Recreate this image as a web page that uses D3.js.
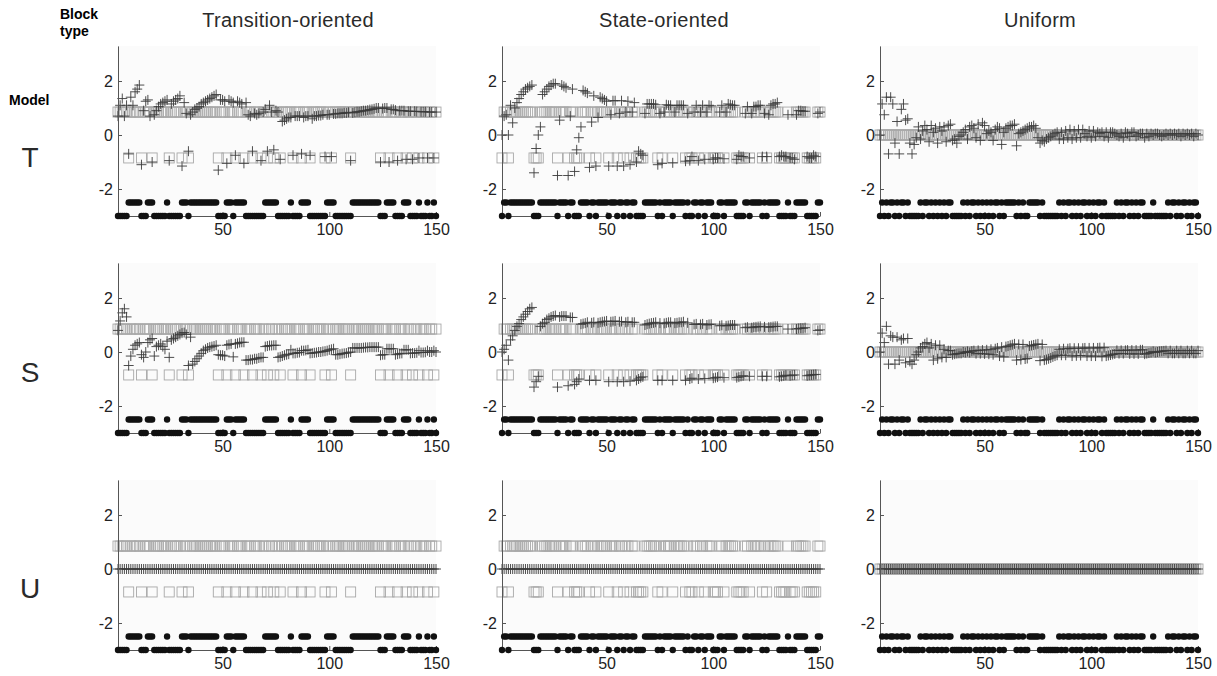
<!DOCTYPE html>
<html>
<head>
<meta charset="utf-8">
<script src="https://cdn.jsdelivr.net/npm/d3@7"></script>
<style>
  body { margin: 0; background: #fff; }
  svg { display: block; font-family: "Liberation Sans", Arial, sans-serif; }
</style>
</head>
<body>
<svg id="chart" width="1217" height="676"></svg>
<script>
const blockTypes = ["Transition-oriented", "State-oriented", "Uniform"];
const models = ["T", "S", "U"];
const xTicks = [50, 100, 150];
const yTicks = [2, 0, -2];
const nTrials = 150;

// observed outcome per trial, 1 = upper dot row (-2.5), 0 = lower dot row (-3); groups of 10 trials
const statesTransition = "0000011111 1000111000 0001000000 1110111111 1111111000 0111011111 0000000001 1111100000 0100001111 0000000011 1100000000 1111111111 1110001111 0000111000 0100010010";
const statesState      = "0110111111 1111100011 1111110111 1011000111 1011011111 0111011011 0110000111 1110101111 0111110100 1101101110 0011011111 0000110111 1101011111 0000100011 1110000011";
const statesUniform    = "0101011010 1101000001 0110101010 1011000001 0101101010 1010110101 1111010100 1111101000 0000101011 0101011010 1011010000 0101011010 1011000010 0000010110 1011010110";

// true log-odds of the observed outcome (grey squares): 1 = upper level, 0 = lower level
const squaresTransition = "1111101111 1011110111 1111011111 0110111111 1111111011 1011101110 1110111011 0110110111 1101110111 0111111011 0111111110 1111111111 1110111011 1011101101 1011101101";
const squaresState      = "0110111111 1111100011 1111110111 1011000111 1011011111 0111011011 0110000111 1110101111 0111110100 1101101110 0011011111 0000110111 1101011111 0000100011 1110000011";
const squareLevel = [0.85, 0.85, 0]; // uniform block: every square sits at 0

// model predictions (+), model T
const plusTT = [
  0.7, 1.1, 1.35, 0.7, 1.1, -0.7, 1.4, 1.1, 1.6, 1.7,
  1.85, -1.1, 0.9, 1.25, 1.3, 0.7, -1.0, 0.75, 0.9, 1.05,
  1.15, 1.2, 1.25, 1.3, -0.95, 1.15, 1.25, 1.3, 1.35, 1.45,
  -1.15, 1.2, 0.8, -0.6, 0.75, 0.85, 0.95, 1.0, 1.05, 1.15,
  1.2, 1.25, 1.3, 1.35, 1.4, 1.45, 1.5, -1.3, 1.3, 1.3,
  1.25, -1.05, 1.3, 1.25, 1.2, -0.75, 1.25, 1.2, 1.15, -1.05,
  1.2, 0.75, 0.7, -0.6, 0.8, 0.75, 0.8, -0.95, 0.85, 0.95,
  -0.6, 1.1, 0.85, -0.55, 0.9, 0.85, -0.9, 0.5, 0.55, 0.6,
  0.65, 0.65, -0.75, 0.7, 0.7, 0.7, -0.7, 0.65, 0.7, 0.7,
  -0.75, 0.6, 0.7, 0.7, 0.72, 0.72, 0.75, -0.8, 0.75, 0.75,
  -0.8, 0.78, 0.78, 0.8, 0.8, 0.8, 0.82, 0.82, 0.84, -0.95,
  0.82, 0.84, 0.86, 0.86, 0.88, 0.9, 0.9, 0.92, 0.94, 0.95,
  0.97, 1.0, 1.0, -1.0, 0.98, 1.0, 1.0, -1.0, 0.95, 0.95,
  0.92, -0.95, 0.9, 0.9, 0.9, -0.9, 0.88, 0.88, -0.9, 0.88,
  0.87, -0.85, 0.86, 0.86, 0.86, -0.85, 0.85, 0.85, -0.85, 0.85
];
const plusTS = [
  0.0, 0.7, 0.75, 0.0, 1.1, 0.45, 1.0, 1.2, 1.35, 1.5,
  1.6, 1.7, 1.75, 1.8, 1.85, -1.4, -0.5, 0.0, 0.3, 1.5,
  1.6, 1.7, 1.8, 1.85, 1.9, 1.9, -1.5, 0.55, 1.85, 1.8,
  1.75, -1.5, 0.7, 1.7, -1.35, -0.55, -0.1, 0.3, 1.65, 1.6,
  1.55, -1.2, 0.48, 1.45, -1.15, 0.65, 1.4, 1.35, 1.3, 1.25,
  -1.15, 0.75, 1.27, 1.27, -1.15, 0.8, 1.27, -1.15, 0.85, 1.25,
  -1.1, 0.85, 1.2, -1.0, -0.6, -0.7, -0.75, 0.8, 1.15, 1.15,
  1.15, 1.15, 1.12, -1.1, 0.8, -1.05, 0.85, 1.12, 1.1, 1.1,
  -1.03, 0.85, 1.1, 1.1, 1.1, 1.1, -0.97, 0.8, -0.95, -0.8,
  0.85, 1.1, -0.95, 0.85, 1.1, -0.9, 0.85, 1.1, 1.08, -0.9,
  -0.85, -0.85, 0.85, 1.1, -0.88, 0.85, 1.15, 1.12, 1.1, 1.1,
  -0.9, -0.75, -0.8, -0.8, 0.8, 1.05, -0.85, 0.8, 1.05, 1.05,
  1.1, 1.1, -0.8, 0.8, -0.8, 0.75, 1.1, 1.15, 1.15, 1.2,
  -0.8, -0.75, -0.8, -0.8, 0.75, -0.85, -0.85, -0.9, 0.75, 0.9,
  0.9, 0.88, 0.88, -0.8, -0.85, -0.85, -0.75, -0.8, 0.8, 0.85
];
const plusTU = [
  0.0, 1.15, 0.75, 1.4, -0.7, 1.4, 1.15, -0.3, 0.5, -0.7,
  0.95, 1.15, 0.55, 0.6, -0.3, -0.7, -0.35, -0.1, 0.3, -0.15,
  0.15, 0.35, 0.2, -0.25, 0.35, 0.1, 0.25, -0.3, 0.3, 0.15,
  0.3, -0.25, 0.35, 0.4, -0.2, -0.15, -0.3, -0.05, 0.0, 0.1,
  0.2, -0.15, 0.3, 0.35, 0.25, -0.1, 0.4, -0.2, 0.45, 0.35,
  0.05, 0.15, 0.1, -0.2, 0.2, 0.3, 0.25, -0.35, 0.1, 0.25,
  0.3, 0.35, 0.35, 0.4, -0.4, 0.05, 0.1, 0.15, 0.2, 0.25,
  0.3, 0.3, 0.35, 0.25, -0.1, -0.3, -0.2, -0.25, -0.15, -0.1,
  -0.05, 0.0, 0.05, 0.1, -0.15, 0.1, -0.15, 0.15, -0.1, 0.2,
  -0.15, 0.15, -0.1, 0.2, -0.1, 0.2, 0.05, -0.05, 0.15, -0.1,
  0.15, -0.05, 0.1, 0.05, 0.1, -0.05, 0.1, -0.1, 0.1, 0.1,
  0.05, 0.0, -0.05, 0.05, -0.1, 0.1, 0.05, -0.05, 0.1, 0.1,
  -0.05, 0.0, 0.05, 0.05, -0.1, 0.05, -0.05, 0.05, 0.0, 0.05,
  0.05, 0.0, -0.05, 0.0, 0.05, 0.0, 0.05, 0.0, 0.05, 0.0,
  0.05, -0.05, 0.05, 0.0, 0.05, 0.0, 0.05, -0.05, 0.05, 0.0
];

// model predictions (+), model S
const plusST = [
  0.8, 1.15, 1.45, 1.6, 1.3, -0.5, -0.15, 0.1, 0.25, 0.3,
  0.35, -0.1, -0.2, 0.0, 0.35, 0.45, 0.5, -0.15, 0.2, 0.25,
  0.3, 0.2, 0.1, 0.4, -0.2, 0.45, 0.5, 0.55, 0.6, 0.65,
  0.7, 0.72, 0.65, -0.5, 0.55, -0.45, -0.35, -0.25, -0.15, -0.05,
  0.05, 0.1, 0.15, 0.18, 0.2, 0.22, 0.25, -0.1, -0.12, -0.12,
  -0.15, 0.25, 0.28, 0.3, -0.18, 0.3, 0.32, 0.35, 0.36, 0.36,
  -0.3, -0.3, -0.28, -0.28, -0.25, -0.25, -0.22, -0.2, -0.2, 0.2,
  0.22, 0.24, 0.24, 0.25, 0.25, -0.2, -0.18, -0.15, -0.12, -0.1,
  -0.08, 0.08, -0.05, -0.05, -0.03, -0.02, 0.05, 0.05, 0.06, 0.08,
  -0.05, -0.04, -0.03, -0.02, 0.0, 0.0, 0.02, 0.03, 0.05, 0.08,
  0.1, 0.12, -0.1, -0.1, -0.08, -0.06, -0.05, -0.04, -0.02, 0.0,
  0.15, 0.15, 0.15, 0.15, 0.15, 0.16, 0.17, 0.17, 0.18, 0.18,
  0.18, 0.18, 0.18, -0.12, -0.1, -0.1, 0.12, 0.12, 0.12, 0.12,
  -0.1, -0.08, -0.06, -0.05, 0.08, 0.08, 0.08, -0.05, -0.04, -0.04,
  -0.03, 0.05, -0.02, -0.02, -0.01, 0.05, 0.0, 0.0, 0.05, 0.0
];
const plusSS = [
  0.0, 0.1, 0.25, -0.3, 0.45, 0.6, 0.8, 0.95, 1.05, 1.2,
  1.3, 1.4, 1.5, 1.6, 1.65, -1.3, -1.1, -0.9, 0.95, 1.05,
  1.1, 1.2, 1.25, 1.3, 1.33, 1.35, -1.3, 1.3, 1.33, 1.33,
  1.33, -1.25, 1.28, 1.28, -1.2, -1.1, -1.0, 1.03, 1.05, 1.07,
  1.1, -1.05, 1.08, 1.1, -1.05, 1.08, 1.1, 1.12, 1.13, 1.15,
  -1.1, 1.12, 1.13, 1.15, -1.1, 1.12, 1.13, -1.1, 1.1, 1.12,
  -1.08, 1.1, 1.1, -1.05, -1.0, -0.95, -0.92, 1.0, 1.03, 1.05,
  1.07, 1.08, 1.1, -1.05, 1.07, -1.05, 1.06, 1.08, 1.1, 1.1,
  -1.05, 1.07, 1.08, 1.1, 1.1, 1.12, -1.05, 1.08, -1.0, -0.97,
  1.02, 1.04, -1.0, 1.02, 1.04, -0.98, 1.0, 1.02, 1.03, -0.97,
  -0.95, -0.93, 0.97, 0.99, -0.95, 0.97, 0.98, 1.0, 1.0, 1.0,
  -0.95, -0.93, -0.9, -0.88, 0.9, 0.92, -0.9, 0.9, 0.92, 0.93,
  0.94, 0.95, -0.9, 0.93, -0.9, 0.92, 0.93, 0.94, 0.95, 0.95,
  -0.92, -0.9, -0.88, -0.86, 0.85, -0.88, -0.86, -0.85, 0.85, 0.87,
  0.88, 0.88, 0.9, -0.88, -0.86, -0.85, -0.84, -0.83, 0.8, 0.82
];
const plusSU = [
  0.0, 0.7, 0.35, 0.95, -0.45, 0.6, 0.55, -0.45, 0.55, -0.3,
  0.45, 0.5, -0.4, 0.5, -0.35, -0.45, -0.3, -0.1, 0.0, 0.15,
  0.2, 0.3, 0.35, 0.15, 0.3, -0.3, 0.25, -0.25, 0.25, -0.2,
  0.1, -0.2, 0.05, 0.05, -0.1, -0.08, -0.06, -0.05, -0.05, 0.0,
  -0.02, 0.02, -0.02, 0.03, 0.05, -0.06, 0.06, -0.06, 0.07, -0.07,
  0.08, -0.08, 0.1, -0.1, 0.12, 0.15, -0.15, 0.18, -0.18, 0.2,
  0.22, 0.25, 0.27, 0.3, -0.3, 0.28, -0.28, 0.28, -0.26, -0.24,
  0.22, 0.24, 0.26, 0.28, 0.3, -0.32, 0.28, -0.3, -0.28, -0.25,
  -0.22, -0.18, -0.15, -0.12, 0.1, -0.12, 0.12, -0.12, 0.12, 0.14,
  -0.15, 0.14, -0.14, 0.14, -0.13, 0.14, 0.15, -0.15, 0.15, -0.15,
  0.15, -0.15, 0.15, 0.16, -0.16, 0.16, -0.15, -0.13, -0.11, -0.09,
  -0.07, 0.06, -0.06, 0.06, -0.06, 0.06, 0.07, -0.07, 0.07, -0.07,
  0.07, -0.07, 0.08, 0.08, -0.08, -0.06, -0.04, -0.02, 0.02, -0.02,
  0.0, 0.02, 0.03, 0.04, 0.05, -0.05, 0.05, -0.05, -0.05, 0.05,
  -0.05, 0.05, -0.05, -0.05, 0.05, -0.05, 0.05, -0.05, -0.05, 0.05
];

// model U predicts 0 on every trial
const plusUModel = 0;

// dot rows
const dotHigh = -2.5;
const dotLow = -3;

const bits = s => s.replace(/\s/g, "").split("").map(Number);

const states = [statesTransition, statesState, statesUniform].map(bits);
const squareSigns = [bits(squaresTransition), bits(squaresState), null];
const plusValues = [
  [plusTT, plusTS, plusTU],
  [plusST, plusSS, plusSU],
  [null, null, null]
];

const svg = d3.select("#chart");

const colLeft = [118, 502, 880];
const rowBottom = [216, 433, 650];
const panelW = 318;
const unitPx = 27;
const titleX = [288, 664, 1040];
const rowLabelY = [157, 372, 588];

const trials = d3.range(1, nTrials + 1);
const fmt = d => (d < 0 ? "-" + Math.abs(d) : String(d));

// header labels
svg.append("text").attr("x", 60).attr("y", 19)
  .style("font-weight", "bold").style("font-size", "14px").text("Block");
svg.append("text").attr("x", 60).attr("y", 36)
  .style("font-weight", "bold").style("font-size", "14px").text("type");
svg.append("text").attr("x", 9).attr("y", 105)
  .style("font-weight", "bold").style("font-size", "14px").text("Model");

blockTypes.forEach((b, c) => {
  svg.append("text")
    .attr("x", titleX[c]).attr("y", 27)
    .attr("text-anchor", "middle")
    .style("font-size", "20px").style("fill", "#2a2a2a")
    .style("letter-spacing", "0.3px")
    .text(b);
});

models.forEach((m, r) => {
  svg.append("text")
    .attr("x", 30).attr("y", rowLabelY[r])
    .attr("text-anchor", "middle").attr("dy", "0.36em")
    .style("font-size", "28px").style("fill", "#2a2a2a")
    .text(m);
});

models.forEach((m, r) => {
  blockTypes.forEach((b, c) => {
    const x = d3.scaleLinear().domain([1, nTrials]).range([colLeft[c], colLeft[c] + panelW]);
    const y = d3.scaleLinear().domain([-3, 3.3]).range([rowBottom[r], rowBottom[r] - 6.3 * unitPx]);
    const g = svg.append("g");

    g.append("rect")
      .attr("x", x(1)).attr("y", y(3.3))
      .attr("width", x(nTrials) - x(1)).attr("height", y(-3) - y(3.3))
      .attr("fill", "#fbfbfb");

    // true log-odds squares
    const sq = squareSigns[c];
    g.selectAll(".sq")
      .data(trials)
      .enter().append("rect")
      .attr("class", "sq")
      .attr("x", t => x(t) - 5)
      .attr("y", t => y(sq ? (sq[t - 1] ? squareLevel[c] : -squareLevel[c]) : squareLevel[c]) - 5)
      .attr("width", 10).attr("height", 10)
      .attr("fill", "none")
      .attr("stroke", "#a8a8a8")
      .attr("stroke-width", 0.9);

    // model predictions
    const pv = plusValues[r][c];
    const plusPath = t => {
      const v = pv ? pv[t - 1] : plusUModel;
      const px = x(t), py = y(v);
      return `M${px - 5},${py}H${px + 5}M${px},${py - 5}V${py + 5}`;
    };
    g.append("path")
      .attr("d", trials.map(plusPath).join(""))
      .attr("fill", "none")
      .attr("stroke", "#3a3a3a")
      .attr("stroke-width", 0.9);

    // axes
    const yAxis = g.append("g")
      .attr("transform", `translate(${x(1)},0)`)
      .call(d3.axisLeft(y).tickValues(yTicks).tickFormat(fmt).tickSizeInner(-4).tickSizeOuter(0).tickPadding(5));
    const xAxis = g.append("g")
      .attr("transform", `translate(0,${y(-3)})`)
      .call(d3.axisBottom(x).tickValues(xTicks).tickSizeInner(-4).tickSizeOuter(0).tickPadding(8));
    [yAxis, xAxis].forEach(a => {
      a.select(".domain").attr("stroke", "#555");
      a.selectAll(".tick line").attr("stroke", "#555");
      a.selectAll(".tick text")
        .style("font-family", "'Liberation Sans', Arial, sans-serif")
        .style("font-size", "16px").style("fill", "#222");
    });

    // observed outcomes
    g.selectAll(".dot")
      .data(trials)
      .enter().append("circle")
      .attr("class", "dot")
      .attr("cx", t => x(t))
      .attr("cy", t => y(states[c][t - 1] ? dotHigh : dotLow))
      .attr("r", 3.2)
      .attr("fill", "#111");
  });
});
</script>
</body>
</html>
